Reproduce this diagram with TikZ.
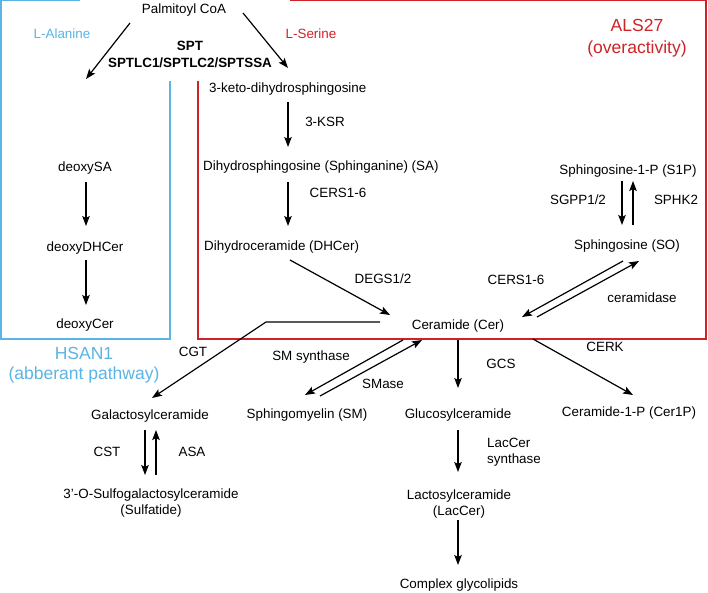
\documentclass[tikz,border=0pt]{standalone}
\usepackage{fontspec}
\setmainfont{Liberation Sans}
\usetikzlibrary{arrows.meta}
\definecolor{hblue}{RGB}{90,180,228}
\definecolor{ared}{RGB}{205,35,40}
\begin{document}
\begin{tikzpicture}[x=1pt,y=-1pt,
  lbl/.style={inner sep=0pt, font=\fontsize{13.4}{16}\selectfont, text height=9.6pt, text depth=0pt},
  two/.style={inner sep=0pt, font=\fontsize{13.4}{16}\selectfont, align=center},
  bigl/.style={inner sep=0pt, font=\fontsize{17.5}{21}\selectfont, align=center},
  arr/.style={line width=1.2pt, -{Stealth[length=10pt,width=7.5pt,inset=2pt]}},
  boxline/.style={line width=1.3pt}]
\useasboundingbox (0,0) rectangle (708,592);

% boxes
\draw[boxline, hblue] (80,0.7) -- (1,0.7) -- (1,339) -- (170,339) -- (170,81);
\draw[boxline, ared] (290,0.7) -- (706,0.7) -- (706,339) -- (198,339) -- (198,81);

% nodes
\node[lbl] (palm) at (184,9) {Palmitoyl CoA};
\node[lbl, text=hblue] (lala) at (62,34) {L-Alanine};
\node[lbl, text=ared] (lser) at (311,34) {L-Serine};
\node[two, font=\fontsize{13.4}{17}\selectfont\bfseries] (spt) at (190,54.5) {SPT\\SPTLC1/SPTLC2/SPTSSA};
\node[lbl, anchor=west] (keto) at (209,88) {3-keto-dihydrosphingosine};
\node[lbl] (dsa) at (85,167) {deoxySA};
\node[lbl] (ddh) at (85,247) {deoxyDHCer};
\node[lbl] (dcer) at (85,324) {deoxyCer};
\node[lbl] (ksr) at (325,122) {3-KSR};
\node[lbl, anchor=west] (sa) at (203,166) {Dihydrosphingosine (Sphinganine) (SA)};
\node[lbl] (cers) at (338,193) {CERS1-6};
\node[lbl, anchor=west] (dh) at (204,246) {Dihydroceramide (DHCer)};
\node[lbl] (degs) at (383,279) {DEGS1/2};
\node[lbl] (cer) at (458,325) {Ceramide (Cer)};
\node[lbl] (cers2) at (516,280) {CERS1-6};
\node[lbl] (cdase) at (642,298) {ceramidase};
\node[lbl] (s1p) at (628,170) {Sphingosine-1-P (S1P)};
\node[lbl] (sgpp) at (578,200) {SGPP1/2};
\node[lbl] (sphk) at (676,200) {SPHK2};
\node[lbl] (so) at (627,245) {Sphingosine (SO)};
\node[bigl, text=hblue, font=\fontsize{17.5}{20}\selectfont] (hsan) at (84,365) {HSAN1\\(abberant pathway)};
\node[bigl, text=ared, font=\fontsize{17.5}{22}\selectfont] (als) at (637,38) {ALS27\\(overactivity)};
\node[lbl] (cgt) at (193,352) {CGT};
\node[lbl] (smsyn) at (311,356) {SM synthase};
\node[lbl] (smase) at (383,384) {SMase};
\node[lbl] (gcs) at (501,364) {GCS};
\node[lbl] (cerk) at (605,347) {CERK};
\node[lbl] (gal) at (150,415) {Galactosylceramide};
\node[lbl] (sm) at (307,414) {Sphingomyelin (SM)};
\node[lbl] (glc) at (458,414) {Glucosylceramide};
\node[lbl] (cer1p) at (629,412) {Ceramide-1-P (Cer1P)};
\node[lbl] (cst) at (107,452) {CST};
\node[lbl] (asa) at (192,452) {ASA};
\node[two] (sulf) at (151,503.4) {3’-O-Sulfogalactosylceramide\\(Sulfatide)};
\node[two, align=left, anchor=west] (lacsyn) at (487,452.4) {LacCer\\synthase};
\node[two] (lac) at (459,504.4) {Lactosylceramide\\(LacCer)};
\node[lbl] (cgl) at (459,584) {Complex glycolipids};

% connector end points
\coordinate (pl1) at (130,23);  \coordinate (pl2) at (86,79);
\coordinate (pr1) at (243,13);  \coordinate (pr2) at (288,68);
\coordinate (d1) at (86,182);   \coordinate (d2) at (86,226);
\coordinate (d3) at (86,260);   \coordinate (d4) at (86,305);
\coordinate (k1) at (288,102);  \coordinate (k2) at (288,147);
\coordinate (k3) at (288,182);  \coordinate (k4) at (288,226);
\coordinate (h1) at (290,260);  \coordinate (h2) at (390,315);
\coordinate (cs1) at (537,317); \coordinate (cs2) at (639,261);
\coordinate (sc1) at (623,261); \coordinate (sc2) at (522,317);
\coordinate (sp1) at (622,181); \coordinate (sp2) at (622,225);
\coordinate (ps1) at (633,225); \coordinate (ps2) at (633,181);
\coordinate (g1) at (380,322);  \coordinate (g2) at (266,322); \coordinate (g3) at (152,398);
\coordinate (m1) at (403,340);  \coordinate (m2) at (305,395);
\coordinate (m3) at (320,396);  \coordinate (m4) at (422,340);
\coordinate (u1) at (458,340);  \coordinate (u2) at (458,388);
\coordinate (e1) at (533,339);  \coordinate (e2) at (633,395);
\coordinate (a1) at (145,430);  \coordinate (a2) at (145,475);
\coordinate (a3) at (156,475);  \coordinate (a4) at (156,430);
\coordinate (l1) at (458,430);  \coordinate (l2) at (458,472);
\coordinate (l3) at (458,520);  \coordinate (l4) at (458,565);

% connectors
\draw[arr] (pl1) -- (pl2);
\draw[arr] (pr1) -- (pr2);
\draw[arr] (d1) -- (d2);
\draw[arr] (d3) -- (d4);
\draw[arr] (k1) -- (k2);
\draw[arr] (k3) -- (k4);
\draw[arr] (h1) -- (h2);
\draw[arr] (cs1) -- (cs2);
\draw[arr] (sc1) -- (sc2);
\draw[arr] (sp1) -- (sp2);
\draw[arr] (ps1) -- (ps2);
\draw[arr] (g1) -- (g2) -- (g3);
\draw[arr] (m1) -- (m2);
\draw[arr] (m3) -- (m4);
\draw[arr] (u1) -- (u2);
\draw[arr] (e1) -- (e2);
\draw[arr] (a1) -- (a2);
\draw[arr] (a3) -- (a4);
\draw[arr] (l1) -- (l2);
\draw[arr] (l3) -- (l4);
\end{tikzpicture}
\end{document}
